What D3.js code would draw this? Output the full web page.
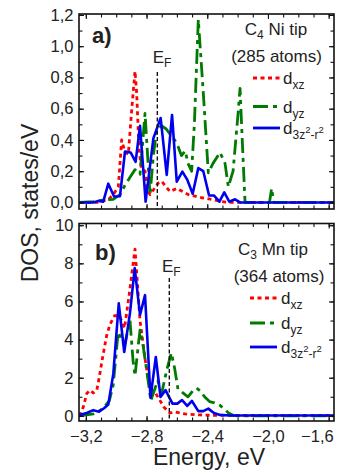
<!DOCTYPE html>
<html><head><meta charset="utf-8">
<script src="https://cdn.jsdelivr.net/npm/d3@7"></script>
<style>
body{margin:0;background:#fff}
svg{display:block}
text{font-family:"Liberation Sans",Arial,Helvetica,sans-serif;fill:#222}
</style>
</head><body>
<svg id="c" width="343" height="474"></svg>
<script>
// ---------- data ----------
const energyTicks = [-3.2, -2.8, -2.4, -2.0, -1.6];
const topDosTicks = [0, 0.2, 0.4, 0.6, 0.8, 1.0, 1.2];
const bottomDosTicks = [0, 2, 4, 6, 8, 10];
const seriesNames = ["xz", "yz", "3z"];

// Panel a) C4 Ni tip (285 atoms): [energy eV, DOS states/eV]
const niDxz = [[-3.243,0],[-3.12,0],[-3.085,0.01],[-3.05,0.02],[-3.02,0.05],[-2.986,0.1],[-2.964,0.4],[-2.942,0.32],[-2.92,0.31],[-2.898,0.59],[-2.876,0.84],[-2.865,0.7],[-2.85,0.35],[-2.835,0.22],[-2.81,0.2],[-2.8,0.1],[-2.777,0.05],[-2.722,0.125],[-2.7,0.135],[-2.646,0.07],[-2.601,0.09],[-2.525,0.05],[-2.48,0.04],[-2.436,0.03],[-2.348,0.015],[-2.305,0.005],[-2.25,0],[-1.565,0]];
const niDyz = [[-3.243,0],[-3.15,0.005],[-3.087,0.015],[-3.02,0.02],[-2.975,0.05],[-2.942,0.11],[-2.91,0.16],[-2.876,0.21],[-2.843,0.18],[-2.81,0.57],[-2.777,0.05],[-2.755,0.3],[-2.733,0.47],[-2.7,0.49],[-2.67,0.47],[-2.64,0.43],[-2.615,0.4],[-2.593,0.36],[-2.57,0.3],[-2.545,0.33],[-2.527,0.25],[-2.503,0.2],[-2.485,0.5],[-2.459,1.17],[-2.426,0.7],[-2.393,0.19],[-2.362,0.25],[-2.316,0.32],[-2.283,0.25],[-2.261,0.1],[-2.23,0.2],[-2.196,0.58],[-2.184,0.73],[-2.165,0.3],[-2.151,0],[-1.99,0],[-1.976,0.09],[-1.962,0],[-1.565,0]];
const niD3z = [[-3.243,0],[-3.151,0],[-3.118,0.01],[-3.085,0.005],[-3.052,0.12],[-3.014,0.038],[-2.975,0.04],[-2.942,0.325],[-2.905,0.32],[-2.872,0.26],[-2.843,0.49],[-2.806,0.005],[-2.755,0.41],[-2.707,0.54],[-2.667,0.176],[-2.632,0.56],[-2.601,0.133],[-2.564,0.197],[-2.531,0.144],[-2.496,0.055],[-2.459,0.22],[-2.426,0.2],[-2.388,0.044],[-2.355,0.044],[-2.32,0.005],[-2.288,0.065],[-2.255,0.005],[-2.217,0.02],[-2.184,0],[-1.565,0]];

// Panel b) C3 Mn tip (364 atoms)
const mnDxz = [[-3.243,0],[-3.217,0.46],[-3.194,1.17],[-3.173,1.34],[-3.151,1.2],[-3.128,1.34],[-3.111,2.04],[-3.089,3.09],[-3.063,4.2],[-3.041,4.8],[-3.011,5.25],[-2.978,5.25],[-2.945,4.6],[-2.912,6.5],[-2.876,8.75],[-2.843,5.0],[-2.81,3.0],[-2.79,2.0],[-2.771,1.4],[-2.741,1.2],[-2.711,0.8],[-2.685,0.45],[-2.646,0.15],[-2.613,0.2],[-2.547,0.1],[-2.448,0.05],[-2.349,0.02],[-1.565,0.02]];
const mnDyz = [[-3.243,0],[-3.15,0.1],[-3.113,0.25],[-3.08,0.45],[-3.045,0.8],[-3.02,1.6],[-2.987,4.4],[-2.965,4.0],[-2.945,3.7],[-2.909,5.0],[-2.889,2.9],[-2.876,2.1],[-2.856,3.6],[-2.843,4.5],[-2.825,3.8],[-2.803,2.6],[-2.787,1.7],[-2.772,0.8],[-2.726,1.85],[-2.7,1.2],[-2.667,2.4],[-2.637,3.3],[-2.615,2.5],[-2.593,1.4],[-2.56,1.2],[-2.527,1.0],[-2.492,1.35],[-2.47,1.45],[-2.445,1.3],[-2.418,1.0],[-2.385,0.75],[-2.352,0.68],[-2.316,0.55],[-2.285,0.35],[-2.26,0.15],[-2.23,0.03],[-2.2,0],[-1.565,0]];
const mnD3z = [[-3.243,0.05],[-3.194,0.15],[-3.151,0.3],[-3.113,0.22],[-3.08,0.4],[-3.052,0.6],[-3.019,2.2],[-2.983,5.9],[-2.947,3.35],[-2.909,5.4],[-2.878,7.75],[-2.843,5.3],[-2.81,6.33],[-2.774,0.95],[-2.739,3.09],[-2.708,0.99],[-2.675,1.35],[-2.646,0.9],[-2.629,0.64],[-2.597,0.64],[-2.566,0.83],[-2.532,0.52],[-2.501,0.78],[-2.459,0.25],[-2.426,0.25],[-2.393,0.38],[-2.356,0.15],[-2.316,0.05],[-2.25,0.02],[-1.565,0.02]];

const fermiTop = -2.729;
const fermiBottom = -2.65;

// ---------- drawing ----------
const svg = d3.select("#c");
const X0 = 79, X1 = 334;
const x = d3.scaleLinear().domain([-3.245, -1.565]).range([X0, X1]);
const xMinor = d3.range(0, 17).map(i => -3.2 + i * 0.1);
const comma = v => d3.format(".1f")(v).replace(".", ",");

const colors = {xz: "#ff0000", yz: "#007a00", "3z": "#0000f0"};
const dashes = {xz: "4,3.5", yz: "15,5,4,5", "3z": null};

const panels = [
  {top: 14, bottom: 209, yDom: [-0.042, 1.206], yMajor: topDosTicks,
   yMinor: d3.range(0, 13).map(i => i * 0.1), fmt: comma,
   data: {xz: niDxz, yz: niDyz, "3z": niD3z}, ef: fermiTop, efTop: 72,
   efLabel: [152.7, 63], tag: "a)", tagPos: [92, 43],
   t1: ["C", "4", " Ni tip"], t1Pos: [276, 35], t2: "(285 atoms)", t2Pos: [276.5, 62],
   legY: [78, 106.5, 128], legX: [253, 280, 283], showX: false, id: "a"},
  {top: 223.5, bottom: 421, yDom: [-0.27, 10.09], yMajor: bottomDosTicks,
   yMinor: d3.range(0, 11), fmt: d3.format("d"),
   data: {xz: mnDxz, yz: mnDyz, "3z": mnD3z}, ef: fermiBottom, efTop: 278,
   efLabel: [162, 272], tag: "b)", tagPos: [95, 260],
   t1: ["C", "3", " Mn tip"], t1Pos: [273, 255], t2: "(364 atoms)", t2Pos: [279, 282],
   legY: [298, 323, 347], legX: [250, 277, 281], showX: true, id: "b"}
];

panels.forEach(p => {
  const y = d3.scaleLinear().domain(p.yDom).range([p.bottom, p.top]);
  const g = svg.append("g");
  g.append("clipPath").attr("id", "clip" + p.id).append("rect")
    .attr("x", X0).attr("y", p.top).attr("width", X1 - X0).attr("height", p.bottom - p.top);

  const line = d3.line().x(d => x(d[0])).y(d => y(d[1]));
  const plot = g.append("g").attr("clip-path", `url(#clip${p.id})`);
  seriesNames.forEach(k => {
    plot.append("path").datum(p.data[k]).attr("d", line)
      .attr("fill", "none").attr("stroke", colors[k]).attr("stroke-width", k === "3z" ? 2.6 : 2.8)
      .attr("stroke-linejoin", "round")
      .attr("stroke-dasharray", dashes[k]);
  });

  // Fermi level
  g.append("line").attr("x1", x(p.ef)).attr("x2", x(p.ef)).attr("y1", p.efTop).attr("y2", p.bottom)
    .attr("stroke", "#111").attr("stroke-width", 1.4).attr("stroke-dasharray", "4,2.5");
  const ef = g.append("text").attr("x", p.efLabel[0]).attr("y", p.efLabel[1]).attr("font-size", 17);
  ef.append("tspan").text("E");
  ef.append("tspan").attr("font-size", 12).attr("dy", 4).text("F");

  // axes
  const strip = sel => { sel.select(".domain").remove(); sel.selectAll("line").attr("stroke", "#111").attr("stroke-width", 1.1); };
  g.append("g").attr("transform", `translate(0,${p.bottom})`)
    .call(d3.axisBottom(x).tickValues(xMinor).tickSize(-3.5).tickFormat("")).call(strip);
  g.append("g").attr("transform", `translate(0,${p.top})`)
    .call(d3.axisTop(x).tickValues(xMinor).tickSize(-3.5).tickFormat("")).call(strip);
  const xb = g.append("g").attr("transform", `translate(0,${p.bottom})`)
    .call(d3.axisBottom(x).tickValues(energyTicks).tickSize(-5).tickPadding(9)
      .tickFormat(p.showX ? comma : "")).call(strip);
  xb.selectAll("text").attr("font-size", 16.5).attr("fill", "#222").attr("font-family", null);
  // last label kept inside the picture, as in the reference
  xb.selectAll("text").filter(d => d === -1.6).attr("text-anchor", "end").attr("x", 4.5);
  g.append("g").attr("transform", `translate(0,${p.top})`)
    .call(d3.axisTop(x).tickValues(energyTicks).tickSize(-5).tickFormat("")).call(strip);

  g.append("g").attr("transform", `translate(${X0},0)`)
    .call(d3.axisLeft(y).tickValues(p.yMinor).tickSize(-3.5).tickFormat("")).call(strip);
  g.append("g").attr("transform", `translate(${X1},0)`)
    .call(d3.axisRight(y).tickValues(p.yMinor).tickSize(-3.5).tickFormat("")).call(strip);
  const yl = g.append("g").attr("transform", `translate(${X0},0)`)
    .call(d3.axisLeft(y).tickValues(p.yMajor).tickSize(-5).tickPadding(5.5).tickFormat(p.fmt)).call(strip);
  yl.selectAll("text").attr("font-size", 16.5).attr("fill", "#222").attr("font-family", null);
  g.append("g").attr("transform", `translate(${X1},0)`)
    .call(d3.axisRight(y).tickValues(p.yMajor).tickSize(-5).tickFormat("")).call(strip);

  g.append("rect").attr("x", X0).attr("y", p.top).attr("width", X1 - X0).attr("height", p.bottom - p.top)
    .attr("fill", "none").attr("stroke", "#111").attr("stroke-width", 1.6);

  // labels
  g.append("text").attr("x", p.tagPos[0]).attr("y", p.tagPos[1]).attr("font-size", 22)
    .attr("font-weight", "bold").text(p.tag);
  const t1 = g.append("text").attr("x", p.t1Pos[0]).attr("y", p.t1Pos[1]).attr("font-size", 17).attr("text-anchor", "middle");
  t1.append("tspan").text(p.t1[0]);
  t1.append("tspan").attr("font-size", 12).attr("dy", 4).text(p.t1[1]);
  t1.append("tspan").attr("dy", -4).text(p.t1[2]);
  g.append("text").attr("x", p.t2Pos[0]).attr("y", p.t2Pos[1]).attr("font-size", 17).attr("text-anchor", "middle").text(p.t2);

  // legend
  seriesNames.forEach((k, i) => {
    const ly = p.legY[i];
    g.append("line").attr("x1", p.legX[0]).attr("x2", p.legX[1]).attr("y1", ly).attr("y2", ly)
      .attr("stroke", colors[k]).attr("stroke-width", 2.8).attr("stroke-dasharray", dashes[k]);
    const t = g.append("text").attr("x", p.legX[2]).attr("y", ly + 6).attr("font-size", 17);
    t.append("tspan").text("d");
    if (k === "3z") {
      t.append("tspan").attr("font-size", 12).attr("dy", 5).text("3z");
      t.append("tspan").attr("font-size", 9.5).attr("dy", -6).text("2");
      t.append("tspan").attr("font-size", 12).attr("dy", 6).text("-r");
      t.append("tspan").attr("font-size", 9.5).attr("dy", -6).text("2");
    } else {
      t.append("tspan").attr("font-size", 12).attr("dy", 5).text(k);
    }
  });
});

// axis titles
svg.append("text").attr("x", 209).attr("y", 465).attr("font-size", 23).attr("text-anchor", "middle").text("Energy, eV");
svg.append("text").attr("transform", "translate(38,203) rotate(-90)").attr("font-size", 23)
  .attr("text-anchor", "middle").text("DOS, states/eV");
</script>
</body></html>
